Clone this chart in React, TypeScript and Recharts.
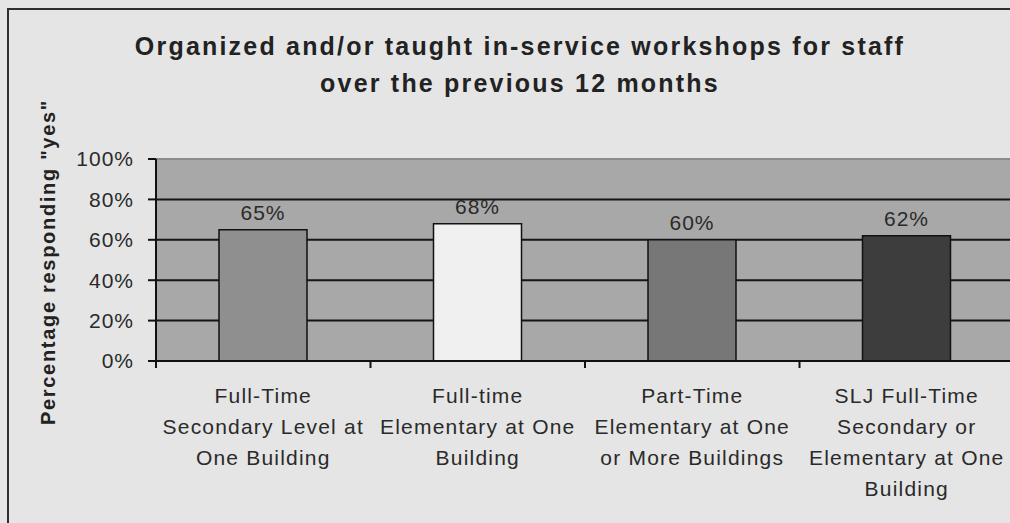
import { BarChart, Bar, XAxis, YAxis, CartesianGrid, Cell, LabelList, ReferenceLine } from 'recharts';

const categories = [
  'Full-Time\nSecondary Level at\nOne Building',
  'Full-time\nElementary at One\nBuilding',
  'Part-Time\nElementary at One\nor More Buildings',
  'SLJ Full-Time\nSecondary or\nElementary at One\nBuilding',
];
const values = [65, 68, 60, 62];
const barColors = ['#8f8f8f', '#f0f0f0', '#777777', '#3d3d3d'];
const yTicks = [0, 20, 40, 60, 80, 100];

const titleLines = ['Organized and/or taught in-service workshops for staff', 'over the previous 12 months'];
const yLabel = 'Percentage responding "yes"';

const FONT = '"Liberation Sans", Arial, sans-serif';
const CHART_W = 1040;
const CHART_H = 523;
const MARGIN = { top: 159, right: 26, left: 0, bottom: 0 };
const Y_AXIS_W = 156;
const X_AXIS_H = 162;
const BAND = (CHART_W - MARGIN.left - MARGIN.right - Y_AXIS_W) / categories.length;

const data = categories.map((name, i) => ({ name, value: values[i] }));

// multi-line category label + Excel style tick between categories
function CategoryTick(props: any) {
  const { x, y, payload, index } = props;
  const lines = String(payload.value).split('\n');
  const left = x - BAND / 2;
  return (
    <g>
      <line x1={left} y1={y} x2={left} y2={y + 7} stroke="#111" strokeWidth={2} />
      {index === categories.length - 1 && (
        <line x1={x + BAND / 2} y1={y} x2={x + BAND / 2} y2={y + 7} stroke="#111" strokeWidth={2} />
      )}
      {lines.map((ln, i) => (
        <text
          key={i}
          x={x}
          y={y + 42 + i * 31}
          textAnchor="middle"
          fill="#2a2a2a"
          fontSize={21}
          fontFamily={FONT}
          letterSpacing={1.2}
        >
          {ln}
        </text>
      ))}
    </g>
  );
}

function ValueLabel(props: any) {
  const { x, y, width, value } = props;
  return (
    <text
      x={x + width / 2}
      y={y - 10}
      textAnchor="middle"
      fill="#2a2a2a"
      fontSize={21}
      fontFamily={FONT}
      letterSpacing={1}
    >
      {value}%
    </text>
  );
}

export default function App() {
  return (
    <div
      style={{
        position: 'absolute',
        left: 0,
        top: 0,
        width: 1010,
        height: 523,
        overflow: 'hidden',
        background: '#e5e5e5',
        fontFamily: FONT,
      }}
    >
      {/* chart frame */}
      <div
        style={{
          position: 'absolute',
          left: 7,
          top: 8,
          width: 1100,
          height: 700,
          border: '2px solid #2e2e2e',
        }}
      />
      <div
        style={{
          position: 'absolute',
          left: 0,
          top: 28,
          width: CHART_W,
          textAlign: 'center',
          fontSize: 25,
          fontWeight: 'bold',
          lineHeight: '37px',
          letterSpacing: 2.2,
          color: '#222',
        }}
      >
        {titleLines.map((t) => (
          <div key={t}>{t}</div>
        ))}
      </div>
      <div
        style={{
          position: 'absolute',
          left: 48 - 200,
          top: 262 - 10,
          width: 400,
          height: 20,
          lineHeight: '20px',
          textAlign: 'center',
          fontSize: 20,
          fontWeight: 'bold',
          letterSpacing: 1.7,
          color: '#222',
          transform: 'rotate(-90deg)',
          whiteSpace: 'nowrap',
        }}
      >
        {yLabel}
      </div>
      <div style={{ position: 'absolute', left: 0, top: 0 }}>
        <BarChart width={CHART_W} height={CHART_H} data={data} margin={MARGIN}>
          <CartesianGrid
            vertical={false}
            stroke="#151515"
            strokeWidth={2}
            fill="#a8a8a8"
            fillOpacity={1}
          />
          <ReferenceLine y={100} stroke="#8c8c8c" strokeWidth={2} />
          <XAxis
            dataKey="name"
            height={X_AXIS_H}
            interval={0}
            tickSize={0}
            tickMargin={0}
            tickLine={false}
            axisLine={{ stroke: '#111', strokeWidth: 2 }}
            tick={<CategoryTick />}
          />
          <YAxis
            type="number"
            domain={[0, 100]}
            ticks={yTicks}
            width={Y_AXIS_W}
            tickSize={8}
            tickMargin={14}
            tickFormatter={(v: number) => `${v}%`}
            tick={{ fill: '#2a2a2a', fontSize: 21, fontFamily: FONT, letterSpacing: 1 }}
            tickLine={{ stroke: '#111', strokeWidth: 2 }}
            axisLine={{ stroke: '#111', strokeWidth: 2 }}
          />
          <Bar dataKey="value" barSize={88} stroke="#111" strokeWidth={1.5} isAnimationActive={false}>
            {data.map((d, i) => (
              <Cell key={d.name} fill={barColors[i]} />
            ))}
            <LabelList dataKey="value" content={<ValueLabel />} />
          </Bar>
        </BarChart>
      </div>
    </div>
  );
}
